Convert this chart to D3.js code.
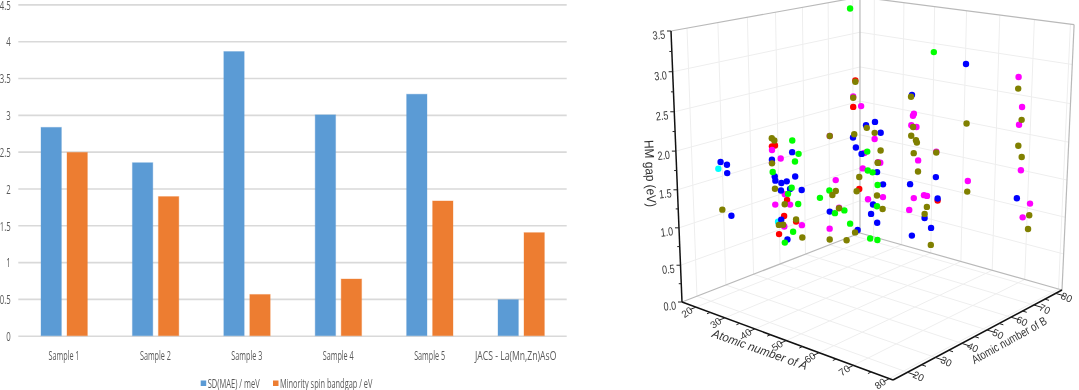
<!DOCTYPE html><html><head><meta charset="utf-8"><style>
html,body{margin:0;padding:0;background:#fff;overflow:hidden}
svg{display:block}
.soft{filter:blur(0.45px)}
</style></head><body>
<script src="https://cdn.jsdelivr.net/npm/d3@7"></script>
<svg id="c" width="1079" height="390" viewBox="0 0 1079 390"></svg>
<script>
// ---- bar chart data ----
const categories=["Sample 1","Sample 2","Sample 3","Sample 4","Sample 5","JACS - La(Mn,Zn)AsO"];
const sdMae=[2.83,2.35,3.86,3.0,3.28,0.49];
const minoritySpinGap=[2.49,1.89,0.56,0.77,1.83,1.4];
const barSeriesNames=["SD(MAE) / meV","Minority spin bandgap / eV"];
const barTicks=[0,0.5,1,1.5,2,2.5,3,3.5,4,4.5];
const atomicTicks=[20,30,40,50,60,70,80];
const gapTicks=[0,0.5,1,1.5,2,2.5,3,3.5];
// ---- 3D scatter data (atomic number of A, atomic number of B, HM gap / eV) ----
const cyanA=[20,20];
const cyanB=[23.9,44.3];
const cyanGap=[1.72,0.75];
const redA=[20,20,20,20,20,20,20,20,20,44.2];
const redB=[75.1,74.2,42.6,43.7,76.7,51.1,47.8,46.6,44.6,80];
const redGap=[2.41,2.04,1.81,1.81,0.81,0.66,1.01,0.80,0.57,0.86];
const magentaA=[20,20,20,22.7,20,24.7,20,20,20.4,25.7,20,20,20,20,20,20,20,20,20,20,68.0,69.3,36.0,35.7,68.6,35.2,36.9,37.6,43.5,23.9,69.6,53.7,39.7,40.7,36.3,34.8,72.6,70.6];
const magentaB=[74.2,77.5,64.6,80,78.9,80,78.2,66.9,80,80,68.2,64.3,48.9,53.3,42.6,45.7,47.0,43.4,46.6,42.5,80,80,80,80,80,80,80,80,80,80,80,80,80,80,80,80,80,80];
const magentaGap=[2.19,2.02,1.72,1.54,1.32,1.21,1.10,1.06,0.62,0.71,0.64,0.38,0.93,0.58,1.76,1.61,1.10,1.00,0.65,1.59,2.77,2.39,2.02,1.99,2.15,1.85,1.84,1.37,1.55,1.21,1.55,1.24,0.89,0.89,0.81,0.62,1.13,0.92];
const blueA=[20,20,22.8,24.8,20,20,23.6,25.7,22.2,21.5,23.7,20,20,20,20,20,20,20,20,20,20,20,20,20,20,20,20,20,20,52.3,35.3,43.5,35.0,68.7,44.2,40.0,42.2,35.8];
const blueB=[74.1,79.6,80,80,75.3,77.7,80,80,80,80,80,76.0,64.4,53.4,51.0,50.0,49.0,24.7,26.8,26.8,27.8,42.5,43.4,43.6,45.8,47.8,45.6,45.5,47.7,80,80,80,80,80,80,80,80,80];
const blueGap=[1.60,1.72,1.79,1.65,1.44,1.32,1.06,0.90,0.56,0.41,0.30,0.20,0.63,1.08,1.30,1.65,1.15,1.80,1.74,1.63,1.05,1.63,1.39,1.33,1.27,1.27,1.17,0.76,0.45,2.83,2.28,1.19,1.00,1.16,0.89,0.56,0.44,0.25];
const greenA=[20,20.1,20.3,22.0,23.8,23.6,21.2,23.8,20,20,20,20,20,20,20,20,20,20,20,20,20,20,42.2];
const greenB=[73.0,80,80,80,80,80,80,80,72.8,70.4,66.5,64.3,60.5,51.0,52.4,50.1,49.6,52.0,49.9,42.7,48.2,46.7,80];
const greenGap=[3.43,1.33,1.05,1.04,0.87,0.55,0.03,0.04,0.34,0.57,0.58,0.94,0.88,1.51,1.60,1.81,1.16,0.90,0.53,1.46,1.09,0.42,2.92];
const oliveA=[20,20,20,20,20,22.7,24.8,23.8,20,20,23.6,25.6,20,20,20,20,20,20,20,20,20,20,20,20,20,20,20,20,68.0,35.0,69.3,52.9,35.8,35.2,36.8,37.1,68.6,69.7,36.1,43.5,23.9,37.6,53.6,40.7,40.0,42.2,72.5,72.3];
const oliveB=[75.1,74.2,64.6,74.6,79.9,80,80,80,76.7,75.6,80,80,74.9,71.3,64.3,68.2,66.9,65.5,51.1,53.4,24.8,42.6,43.5,42.5,43.4,46.9,44.6,46.2,80,80,80,80,80,80,80,80,80,80,80,80,80,80,80,80,80,80,80,80];
const oliveGap=[2.39,2.17,1.72,1.64,1.68,1.63,1.39,1.20,0.99,0.79,0.71,0.53,0.18,0.11,0.22,0.63,0.90,0.86,0.69,0.40,1.17,1.92,1.88,1.58,1.22,0.96,0.70,0.68,2.62,2.25,2.22,2.03,1.83,1.70,1.65,1.62,1.87,1.73,1.46,1.54,1.20,1.21,1.09,0.73,0.62,0.19,0.97,0.78];

const svg=d3.select("#c");
const FONT_BAR="'Open Sans','Liberation Sans',sans-serif", FONT_3D="'Liberation Sans',Arial,sans-serif";
const BLUE="#5b9bd5", ORANGE="#ed7d31";
// squeeze a text horizontally to a measured width, about its anchor
function fit(sel,width,tx,ty,rot){
  sel.each(function(){
    const s=width/this.getComputedTextLength();
    this.setAttribute("transform",`translate(${tx},${ty}) rotate(${rot||0}) scale(${s},1)`);
  });
}

// ======== left: bar chart ========
const left=svg.append("g").attr("class","soft");
const yBar=d3.scaleLinear().domain([0,4.5]).range([335.7,4.4]);
const xBar=d3.scaleBand().domain(categories).range([18.3,566.7]);
const yAxisG=left.append("g").attr("transform","translate(18.3,0)")
  .call(d3.axisLeft(yBar).tickValues(barTicks).tickFormat(d=>String(d)).tickSize(-548.4).tickPadding(0));
yAxisG.select(".domain").remove();
yAxisG.selectAll("line").attr("stroke","#d9d9d9").attr("stroke-width",1.6);
yAxisG.selectAll("text").attr("x",0).attr("dy",0).attr("dominant-baseline","central")
  .attr("text-anchor","end").attr("transform","translate(-7.6,0) scale(.65,1)")
  .attr("font-family",FONT_BAR).attr("font-size",12).attr("fill","#595959");
const xAxisG=left.append("g").attr("transform","translate(0,355)")
  .call(d3.axisBottom(xBar).tickSize(0).tickPadding(0));
xAxisG.select(".domain").remove();
xAxisG.selectAll("text").attr("y",0).attr("dy",0).attr("dominant-baseline","central")
  .attr("text-anchor","middle").attr("font-family",FONT_BAR).attr("font-size",12).attr("fill","#595959")
  .each(function(d){
    const long=d.length>10;
    fit(d3.select(this),long?81.4:31,long?-5.3:0,0,0);
  });
[sdMae,minoritySpinGap].forEach((vals,s)=>{
  left.append("g").selectAll("rect").data(vals).join("rect")
    .attr("x",(d,i)=>xBar(categories[i])+xBar.bandwidth()/2-23+s*26)
    .attr("width",20.4)
    .attr("y",d=>yBar(d)).attr("height",d=>yBar(0)-yBar(d))
    .attr("fill",s?ORANGE:BLUE).attr("stroke",s?ORANGE:BLUE).attr("stroke-opacity",.35).attr("stroke-width",1);
});
const legendX=[200.7,273], legW=[52,92.5];
barSeriesNames.forEach((n,i)=>{
  left.append("rect").attr("x",legendX[i]).attr("y",380.5).attr("width",5.5).attr("height",5.5).attr("fill",i?ORANGE:BLUE);
  left.append("text").attr("dominant-baseline","central").attr("text-anchor","start")
    .attr("font-family",FONT_BAR).attr("font-size",12).attr("fill","#595959").text(n)
    .call(fit,legW[i],legendX[i]+7,383.5,0);
});

// ======== right: 3D scatter ========
const uA=d3.scaleLinear().domain([15,81]).range([0,1]);
const vB=d3.scaleLinear().domain([15,83]).range([0,1]);
const wGap=d3.scaleLinear().domain([0,3.5]).range([0,1]);
// perspective camera fixed by the box corners
const p00=[682,302],p10=[893,380],p11=[1062,290],p01=[860,233],t00=[671,31];
const dx1=p10[0]-p11[0],dx2=p01[0]-p11[0],sx=p00[0]-p10[0]+p11[0]-p01[0];
const dy1=p10[1]-p11[1],dy2=p01[1]-p11[1],sy=p00[1]-p10[1]+p11[1]-p01[1];
const dn=dx1*dy2-dx2*dy1;
const G=(sx*dy2-dx2*sy)/dn,H=(dx1*sy-sx*dy1)/dn,I=-0.058;
const a=p10[0]*(1+G)-p00[0],b=p01[0]*(1+H)-p00[0],d0=p10[1]*(1+G)-p00[1],e=p01[1]*(1+H)-p00[1];
const cx=t00[0]*(1+I)-p00[0],cy=t00[1]*(1+I)-p00[1];
function proj(u,v,w){const q=1+G*u+H*v+I*w;return [(p00[0]+a*u+b*v+cx*w)/q,(p00[1]+d0*u+e*v+cy*w)/q];}
const right=svg.append("g").attr("class","soft");
function seg(g,A,B,col,sw){g.append("line").attr("x1",A[0]).attr("y1",A[1]).attr("x2",B[0]).attr("y2",B[1]).attr("stroke",col).attr("stroke-width",sw);}
const grid=right.append("g");
const GC="#eeeeee";
atomicTicks.forEach(t=>{
  const u=uA(t),v=vB(t);
  seg(grid,proj(0,v,0),proj(0,v,1),GC,1);
  seg(grid,proj(u,1,0),proj(u,1,1),GC,1);
  seg(grid,proj(u,0,0),proj(u,1,0),GC,1);
  seg(grid,proj(0,v,0),proj(1,v,0),GC,1);
});
gapTicks.slice(1,-1).forEach(t=>{
  const w=wGap(t);
  seg(grid,proj(0,0,w),proj(0,1,w),GC,1);
  seg(grid,proj(0,1,w),proj(1,1,w),GC,1);
});
const EC="#b9b9b9";
[[[0,0,0],[0,1,0]],[[0,1,0],[1,1,0]],[[0,1,0],[0,1,1]],[[0,0,1],[0,1,1]],[[0,1,1],[1,1,1]],[[1,1,0],[1,1,1]]]
  .forEach(([A,B])=>seg(grid,proj(...A),proj(...B),EC,1.2));
const axes=right.append("g");
seg(axes,proj(0,0,0),proj(0,0,1),"#111",1.5);
seg(axes,proj(0,0,0),proj(1,0,0),"#111",1.5);
seg(axes,proj(1,0,0),proj(1,1,0),"#111",1.5);
d3.range(0,3.51,0.25).forEach(t=>{const w=wGap(t),maj=t%0.5===0;const P=proj(0,0,w);seg(axes,[P[0]-(maj?4:2.5),P[1]],P,"#222",1);});
d3.range(20,81,5).forEach(t=>{const maj=t%10===0;
  seg(axes,proj(uA(t),0,0),proj(uA(t),maj?-0.03:-0.016,0),"#222",1);
  seg(axes,proj(1,vB(t),0),proj(maj?1.035:1.018,vB(t),0),"#222",1);
});
const labels=right.append("g").attr("font-family",FONT_3D).attr("fill","#333");
gapTicks.forEach(t=>{const P=proj(0,0,wGap(t));
  labels.append("text").attr("text-anchor","end").attr("dominant-baseline","central")
    .attr("font-size",12).text(t.toFixed(1)).call(fit,12.5,P[0]-6,P[1]+3,-6);
});
atomicTicks.forEach(t=>{
  const P=proj(uA(t),0,0),Q=proj(1,vB(t),0);
  labels.append("text").attr("transform",`translate(${P[0]-9},${P[1]+5}) rotate(-35)`)
    .attr("text-anchor","middle").attr("dominant-baseline","central").attr("font-size",10).text(t);
  labels.append("text").attr("transform",`translate(${Q[0]+11},${Q[1]+4}) rotate(25)`)
    .attr("text-anchor","middle").attr("dominant-baseline","central").attr("font-size",10).text(t);
});
labels.append("text").attr("text-anchor","middle").attr("dominant-baseline","central")
  .attr("font-size",13).text("HM gap (eV)").call(fit,67,650,173.5,87.5);
labels.append("text").attr("text-anchor","middle").attr("dominant-baseline","central")
  .attr("font-size",12).attr("font-style","italic").text("Atomic number of A").call(fit,100,760,349,19.5);
labels.append("text").attr("text-anchor","middle").attr("dominant-baseline","central")
  .attr("font-size",12).text("Atomic number of B").call(fit,84,1009,340,-29);
// points
const seriesList=[[cyanA,cyanB,cyanGap,"#00ffff"],[redA,redB,redGap,"#ff0000"],[magentaA,magentaB,magentaGap,"#ff00ff"],
  [blueA,blueB,blueGap,"#0000ff"],[greenA,greenB,greenGap,"#00ff00"],[oliveA,oliveB,oliveGap,"#808000"]];
const ptsG=right.append("g");
seriesList.forEach(([A,B,Gp,col])=>{
  ptsG.append("g").selectAll("circle").data(A.map((x,i)=>proj(uA(x),vB(B[i]),wGap(Gp[i])))).join("circle")
    .attr("cx",d=>d[0]).attr("cy",d=>d[1]).attr("r",3.2).attr("fill",col);
});
</script></body></html>
